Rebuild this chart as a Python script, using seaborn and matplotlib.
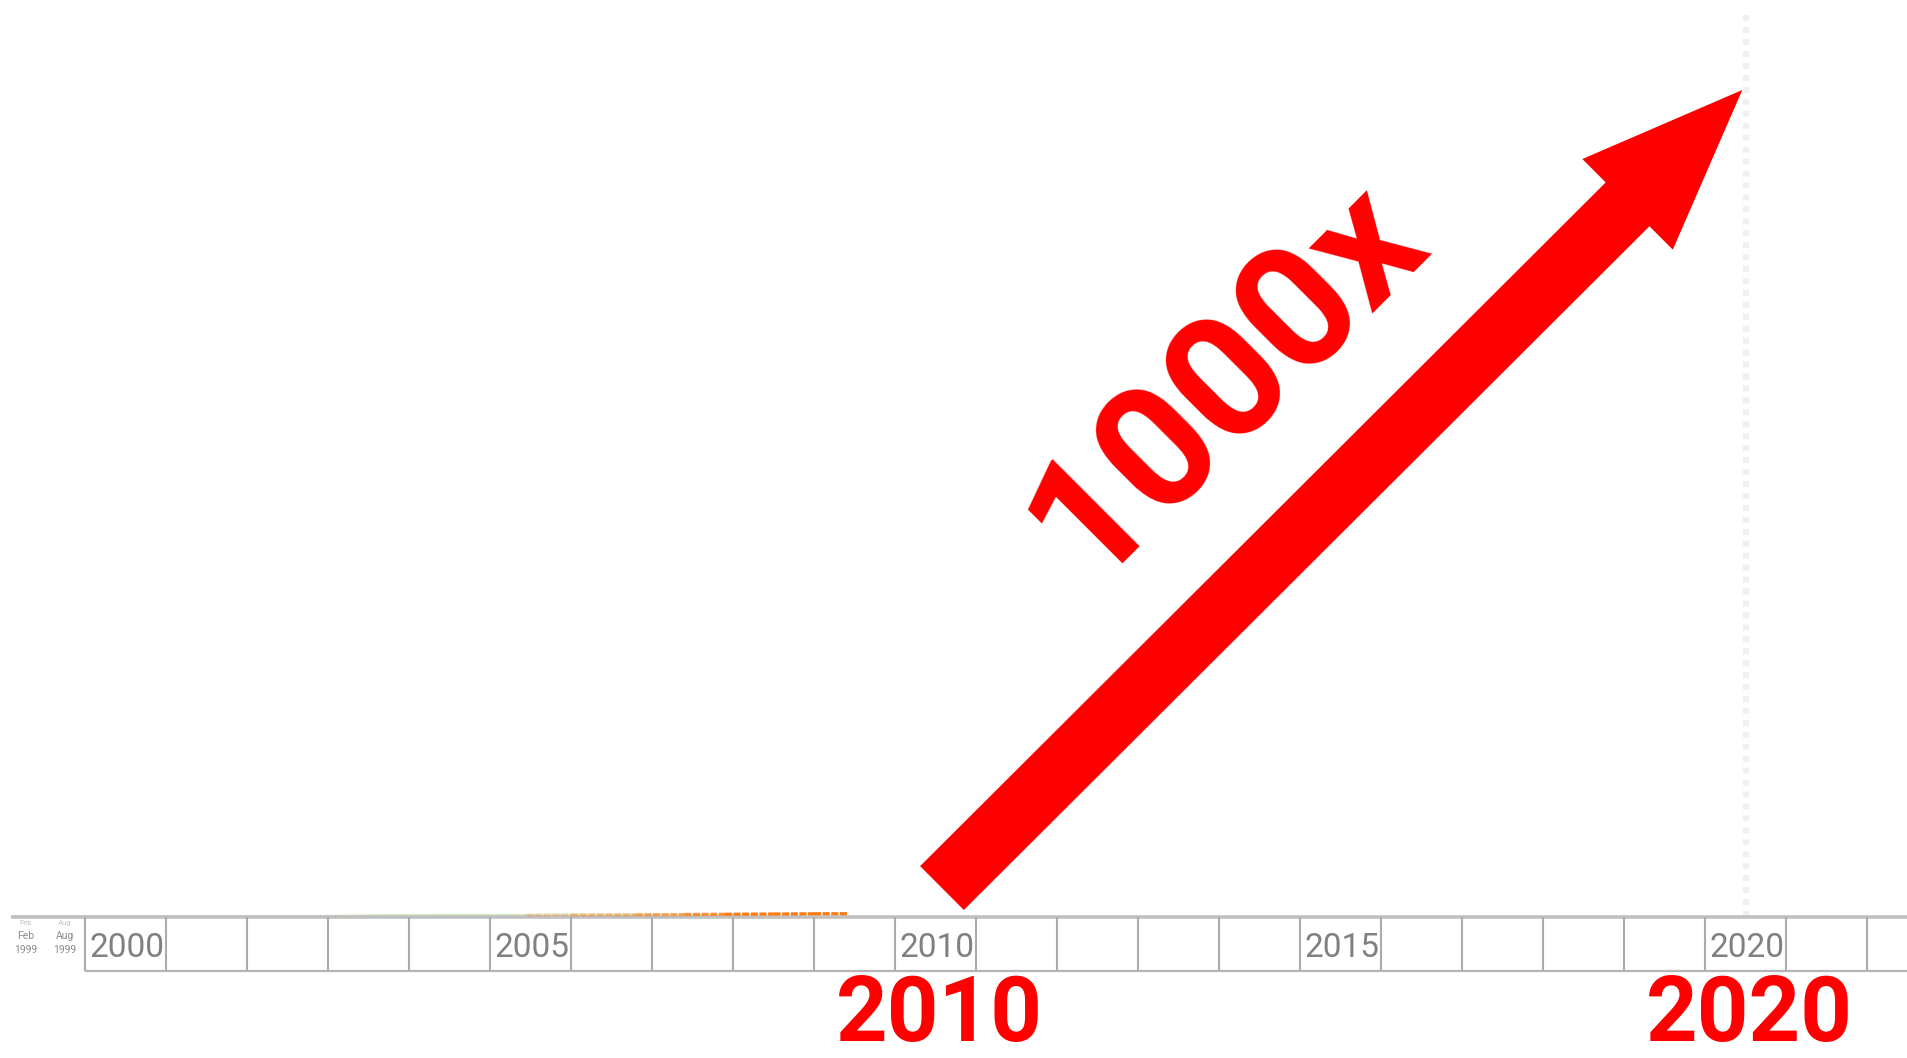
import seaborn as sns
import matplotlib.pyplot as plt

# two tiny series hugging the baseline (same scale as the 1000x arrow)
green_years = [1999.1, 2000.0, 2001.0, 2002.0, 2003.0, 2003.85, 2005.0, 2006.0, 2007.0, 2008.0]
green_values = [1.0, 1.0, 1.1, 1.2, 1.3, 2.4, 2.5, 2.6, 2.7, 2.8]
orange_years = [2005.45, 2006.0, 2006.8, 2007.4, 2007.9, 2008.5, 2009.0, 2009.41]
orange_values = [2.2, 2.4, 2.7, 3.0, 3.3, 3.6, 3.9, 4.0]

cell_years = list(range(2000, 2023))
label_years = [2000, 2005, 2010, 2015, 2020]
big_label_years = [2010, 2020]
early_months = ["Feb", "Aug"]
early_month_pos = [1999.27, 1999.75]
early_year = "1999"

growth_text = "1000x"
growth_start = (2010.58, 35)
growth_end = (2020.46, 1000)
marker_year = 2020.5

sns.set_theme(style="white")
FONT = 'Roboto'
plt.rcParams['font.family'] = [FONT, 'DejaVu Sans']

fig = plt.figure(figsize=(19.07, 10.58), dpi=100)
ax = fig.add_axes([0, 0, 1, 1])
px = 81.0          # pixels per year
py = 0.827         # pixels per value unit
x0 = 2000 - 85 / px
x1 = 2000 + (1907 - 85) / px
ax.set_xlim(x0, x1)
ax.set_ylim((917 - 1058) / py, 917 / py)
ax.axis('off')

def v(pix):
    # pixel row -> value
    return (917 - pix) / py

# faint dotted marker line at 2020
ax.vlines(marker_year, 0, v(13), color='#f0f0f0', lw=4.3, linestyles=(0, (1, 1)), zorder=1)

# data
sns.lineplot(x=green_years, y=green_values, ax=ax, color='#d6ecc4', lw=1.6, zorder=2)
# orange series fades in from the left
n = len(orange_years)
for i in range(n - 1):
    a = min(1.0, 0.25 + 0.75 * i / (n - 4))
    sns.lineplot(x=orange_years[i:i + 2], y=orange_values[i:i + 2], ax=ax, color='#ff7a12',
                 lw=2.3, alpha=a, linestyle=(0, (2.2, 0.5)), dash_capstyle='butt', zorder=4)

# timeline strip
cell_bottom = v(971)
ax.hlines(0, x0 + 11 / px, x1, color='#c0c0c0', lw=2.6, zorder=3)
ax.vlines(cell_years, cell_bottom, 0, color='#ababab', lw=1.5, zorder=3)
ax.hlines(cell_bottom, 2000, x1, color='#b4b4b4', lw=1.6, zorder=3)

for yr in label_years:
    ax.text(yr + 0.05, v(957), str(yr), fontsize=24, color='#808080',
            ha='left', va='baseline')

for m, pos in zip(early_months, early_month_pos):
    # faint ghost of the month from an earlier frame
    ax.text(pos, v(925), m, fontsize=5.5, color='#c4c4c4', ha='center', va='baseline')
    ax.text(pos, v(939), m, fontsize=7.5, color='#8a8a8a', ha='center', va='baseline')
    ax.text(pos, v(953), early_year, fontsize=7.5, color='#8a8a8a', ha='center', va='baseline')

for yr in big_label_years:
    ax.text(yr + 0.55, v(1041), str(yr), fontsize=65, fontweight='bold', color='red',
            ha='center', va='baseline')

# growth arrow and label
ax.annotate('', xy=growth_end, xytext=growth_start,
            arrowprops=dict(arrowstyle='simple,head_length=1.166,head_width=0.922,tail_width=0.446',
                            mutation_scale=100, color='red', lw=0, shrinkA=0, shrinkB=0),
            zorder=5)
ax.text(2014.50, 610, growth_text, fontsize=124, fontweight='bold', color='red',
        rotation=45, rotation_mode='anchor', ha='center', va='baseline', zorder=5)

fig.savefig('out.png', dpi=100)
